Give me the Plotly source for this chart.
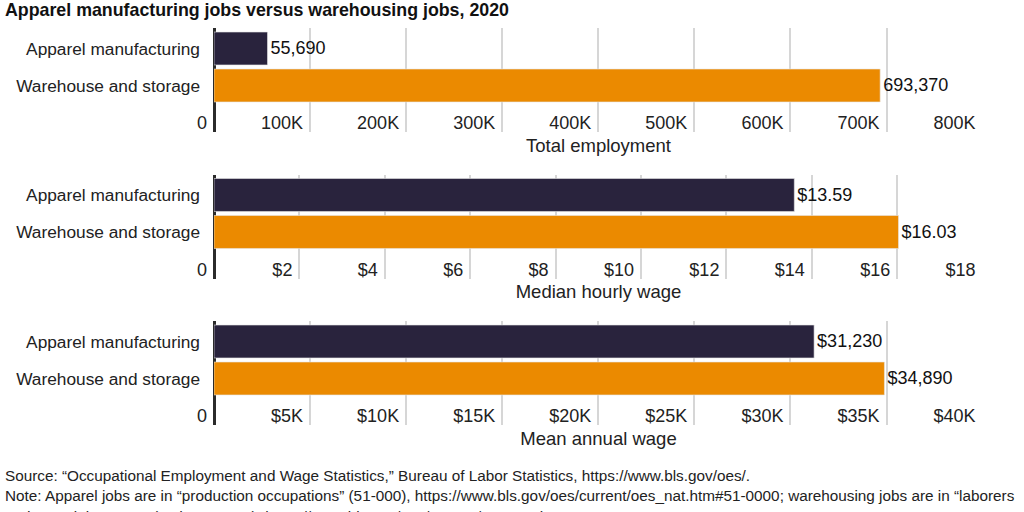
import plotly.graph_objects as go

# --- data ---
categories = ["Apparel manufacturing", "Warehouse and storage"]
total_employment = [55690, 693370]
median_hourly_wage = [13.59, 16.03]
mean_annual_wage = [31230, 34890]

emp_tickvals = [0, 100000, 200000, 300000, 400000, 500000, 600000, 700000, 800000]
emp_ticktext = ["0", "100K", "200K", "300K", "400K", "500K", "600K", "700K", "800K"]
hourly_tickvals = [0, 2, 4, 6, 8, 10, 12, 14, 16, 18]
hourly_ticktext = ["0", "$2", "$4", "$6", "$8", "$10", "$12", "$14", "$16", "$18"]
annual_tickvals = [0, 5000, 10000, 15000, 20000, 25000, 30000, 35000, 40000]
annual_ticktext = ["0", "$5K", "$10K", "$15K", "$20K", "$25K", "$30K", "$35K", "$40K"]

panel_titles = ["Total employment", "Median hourly wage", "Mean annual wage"]

COLORS = ["#29233d", "#eb8a00"]
FONT = "Liberation Sans, Arial, sans-serif"

W, H = 1024, 512
X0, X1 = 214, 983
panel_tops = [28, 174.5, 321]
PANEL_H = 104


def py(px):
    return 1 - px / H


panels = [
    (total_employment, "%{x:,}", emp_tickvals, emp_ticktext),
    (median_hourly_wage, "$%{x:.2f}", hourly_tickvals, hourly_ticktext),
    (mean_annual_wage, "$%{x:,}", annual_tickvals, annual_ticktext),
]

fig = go.Figure()

for i, (vals, tmpl, tv, tt) in enumerate(panels):
    n = "" if i == 0 else str(i + 1)
    fig.add_trace(go.Bar(
        x=vals,
        y=categories,
        orientation="h",
        marker=dict(color=COLORS, line=dict(color="#e6e6e6", width=0.6)),
        text=vals,
        texttemplate=tmpl,
        textposition="outside",
        textfont=dict(family=FONT, size=18, color="#111111"),
        cliponaxis=False,
        xaxis="x" + n,
        yaxis="y" + n,
        hoverinfo="skip",
    ))
    top = panel_tops[i]
    fig.update_layout({
        "xaxis" + n: dict(
            domain=[X0 / W, X1 / W],
            anchor="y" + n,
            range=[0, tv[-1] * 1.0005],
            tickvals=tv,
            ticktext=tt,
            ticklabelposition="inside left",
            ticklabeloverflow="allow",
            ticklabelshift=-7,
            ticklabelstandoff=-7,
            ticks="",
            tickfont=dict(family=FONT, size=18, color="#222222"),
            showgrid=True,
            gridcolor="#d6d6d6",
            gridwidth=1.5,
            zeroline=True,
            zerolinecolor="#2b2b2b",
            zerolinewidth=3,
            showline=False,
            fixedrange=True,
            title=dict(text=panel_titles[i], standoff=6,
                       font=dict(family=FONT, size=18.5, color="#222222")),
            automargin=False,
        ),
        "yaxis" + n: dict(
            domain=[py(top + PANEL_H), py(top)],
            anchor="x" + n,
            type="category",
            categoryorder="array",
            categoryarray=categories,
            range=[2.257, -0.554],
            showgrid=False,
            zeroline=False,
            ticks="",
            ticklabelstandoff=13,
            tickfont=dict(family=FONT, size=17.3, color="#222222"),
            fixedrange=True,
            automargin=False,
        ),
    })

fig.update_layout(
    width=W,
    height=H,
    margin=dict(l=0, r=0, t=0, b=0),
    paper_bgcolor="white",
    plot_bgcolor="white",
    showlegend=False,
    bargap=0.11,
    title=dict(
        text="<b>Apparel manufacturing jobs versus warehousing jobs, 2020</b>",
        x=5 / W, xanchor="left",
        yref="container", y=py(10), yanchor="middle",
        font=dict(family=FONT, size=17.8, color="#111111"),
    ),
)

source = "Source: “Occupational Employment and Wage Statistics,” Bureau of Labor Statistics, https://www.bls.gov/oes/."
note1 = ("Note: Apparel jobs are in “production occupations” (51-000), "
         "https://www.bls.gov/oes/current/oes_nat.htm#51-0000; warehousing jobs are in “laborers")
note2 = "and material movers” (code 53-7062), https://www.bls.gov/oes/current/oes_nat.htm#53-0000."

for txt, ypx in [(source, 475), (note1, 495), (note2, 516)]:
    fig.add_annotation(
        text=txt, x=3 / W, y=py(ypx), xref="paper", yref="paper",
        xanchor="left", yanchor="middle", showarrow=False,
        font=dict(family=FONT, size=15.3, color="#222222"),
    )

fig.write_html("out.html", config={"displayModeBar": False},
               post_script="document.body.style.margin='0';")
